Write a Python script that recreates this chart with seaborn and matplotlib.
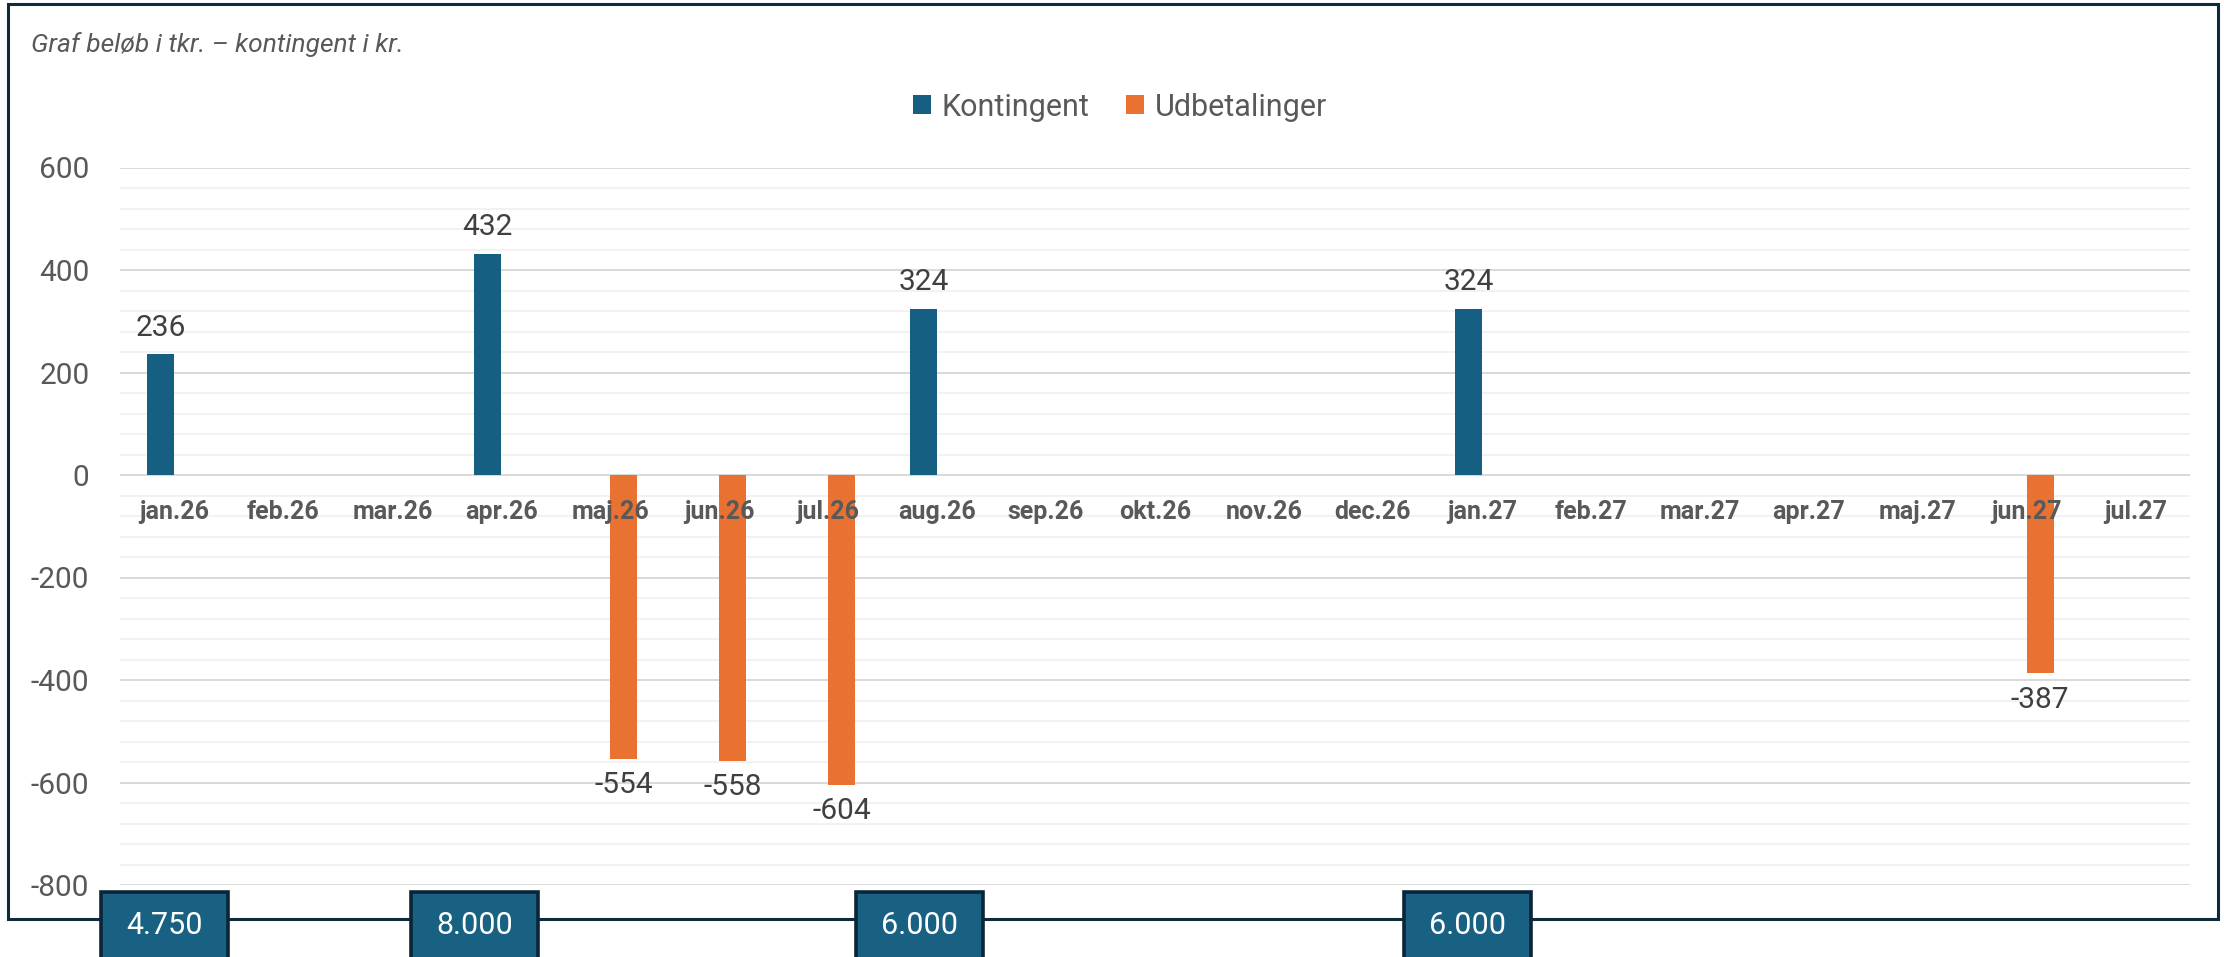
import matplotlib

matplotlib.use("Agg")
import matplotlib.pyplot as plt
import matplotlib.transforms as mtransforms
from matplotlib.patches import Rectangle
from matplotlib.ticker import MultipleLocator
import pandas as pd
import seaborn as sns

MONTHS = ["jan.26", "feb.26", "mar.26", "apr.26", "maj.26", "jun.26", "jul.26",
          "aug.26", "sep.26", "okt.26", "nov.26", "dec.26", "jan.27", "feb.27",
          "mar.27", "apr.27", "maj.27", "jun.27", "jul.27"]
KONTINGENT = [236, None, None, 432, None, None, None, 324, None, None, None, None,
              324, None, None, None, None, None, None]
UDBETALINGER = [None, None, None, None, -554, -558, -604, None, None, None, None,
                None, None, None, None, None, None, -387, None]
SERIES = ["Kontingent", "Udbetalinger"]
BOX_MONTHS = ["jan.26", "apr.26", "aug.26", "jan.27"]
BOX_LABELS = ["4.750", "8.000", "6.000", "6.000"]

BLUE = "#156082"
ORANGE = "#E97132"
NAVY = "#0E2A3B"
GRAY = "#595959"

rows = []
for series, values in zip(SERIES, [KONTINGENT, UDBETALINGER]):
    for month, v in zip(MONTHS, values):
        if v is not None:
            rows.append({"month": month, "series": series, "value": v})
df = pd.DataFrame(rows)

sns.set_theme(style="white")
plt.rcParams["font.family"] = ["Roboto", "DejaVu Sans"]
plt.rcParams["axes.unicode_minus"] = False

W, H = 2224, 957
fig = plt.figure(figsize=(W / 100, H / 100), dpi=100)
ax = fig.add_axes([120 / W, 1 - 885 / H, (2190 - 120) / W, (885 - 167.5) / H])

bar_w = 0.496
sns.barplot(data=df, x="month", y="value", hue="series", order=MONTHS,
            hue_order=SERIES, palette=[BLUE, ORANGE], saturation=1, width=bar_w,
            gap=0, dodge=True, errorbar=None, linewidth=0, ax=ax, zorder=3)

ax.set_ylim(-800, 600)
ax.set_xlim(-0.5, len(MONTHS) - 0.5)
ax.yaxis.set_major_locator(MultipleLocator(200))
ax.yaxis.set_minor_locator(MultipleLocator(40))
ax.grid(which="major", axis="y", color="#d9d9d9", lw=1.4, zorder=0)
ax.grid(which="minor", axis="y", color="#f0f0f0", lw=1.2, zorder=0)
ax.grid(axis="x", visible=False)
ax.set_axisbelow(True)
for side in ["top", "right", "left"]:
    ax.spines[side].set_visible(False)
ax.spines["bottom"].set_position(("data", 0))
ax.spines["bottom"].set_visible(False)
ax.xaxis.set_zorder(5)  # month labels sit on top of the bars
ax.set_xlabel("")
ax.set_ylabel("")
ax.tick_params(axis="y", which="both", length=0, pad=22, labelsize=21.5, labelcolor=GRAY)
ax.tick_params(axis="x", length=0, pad=18, labelcolor=GRAY)
for lbl in ax.get_xticklabels():
    lbl.set_fontweight("bold")
    lbl.set_fontsize(18)

for container in ax.containers:
    ax.bar_label(container, fmt="%g", padding=9, fontsize=21.5, color="#404040")

# legend at top centre
sns.move_legend(ax, "center", bbox_to_anchor=(1120 / W, 1 - 107 / H),
                bbox_transform=fig.transFigure, ncol=2, frameon=False, title=None,
                fontsize=22, handlelength=0.6, handleheight=0.6,
                handletextpad=0.35, columnspacing=1.2)
for t in ax.get_legend().get_texts():
    t.set_color(GRAY)

fig.text(31 / W, 1 - 45 / H, "Graf beløb i tkr. – kontingent i kr.",
         fontsize=19, style="italic", color=GRAY, va="center", ha="left")

# outer frame
fig.add_artist(Rectangle((8 / W, 1 - 919 / H), (2218 - 8) / W, (919 - 4) / H,
                         transform=fig.transFigure, fill=False, edgecolor=NAVY,
                         lw=2.2, zorder=-1))

# contribution boxes under the axis (hand placed, a little left of the bars)
trans = mtransforms.blended_transform_factory(ax.transData, fig.transFigure)
cat_px = (2190 - 120) / len(MONTHS)
box_w = 127 / cat_px
box_shift_px = [-10, -27, -18, -14]
for month, label, shift in zip(BOX_MONTHS, BOX_LABELS, box_shift_px):
    xc = MONTHS.index(month) + shift / cat_px
    ax.add_patch(Rectangle((xc - box_w / 2, -0.02), box_w, 1 - 892 / H + 0.02,
                           transform=trans, facecolor="#186183", edgecolor="#0B2536",
                           lw=2.6, clip_on=False, zorder=6))
    ax.text(xc, 1 - 925 / H, label, transform=trans, ha="center", va="center",
            fontsize=22, color="white", zorder=7, clip_on=False)

fig.savefig("out.png", dpi=100)
